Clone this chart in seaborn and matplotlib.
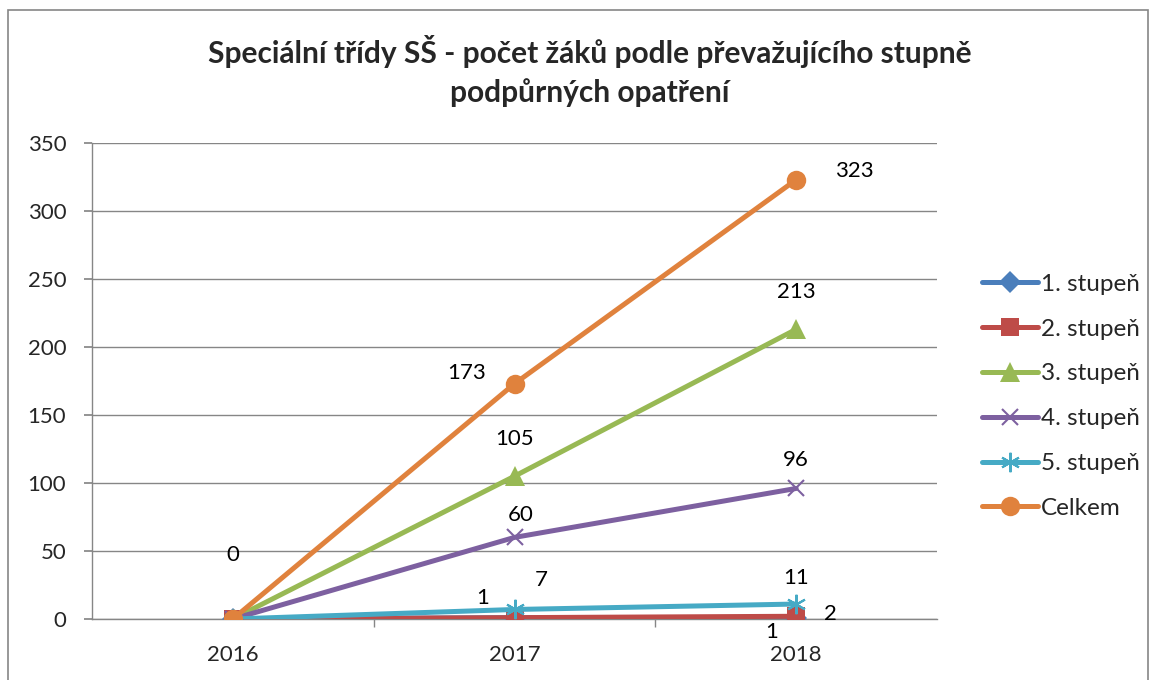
import matplotlib
matplotlib.use("Agg")
import matplotlib.pyplot as plt
import numpy as np
import pandas as pd
import seaborn as sns
from matplotlib.patches import Rectangle

# --- Data ---
years = ["2016", "2017", "2018"]
series_names = ["1. stupeň", "2. stupeň", "3. stupeň", "4. stupeň", "5. stupeň", "Celkem"]
stupen_1 = [0, 1, 1]
stupen_2 = [0, 1, 2]
stupen_3 = [0, 105, 213]
stupen_4 = [0, 60, 96]
stupen_5 = [0, 7, 11]
celkem = [0, 173, 323]
title = "Speciální třídy SŠ - počet žáků podle převažujícího stupně\npodpůrných opatření"

# --- Style ---
_COLORS = ["#4A7EBB", "#BE4B48", "#98B954", "#7D60A0", "#46AAC5", "#E0823D"]
_MARKERS = ["D", "s", "^", "x", (6, 2, 0), "o"]
_MSIZE = [11, 13, 14, 12, 14, 14]
_GRID = "#868686"
_FONT = ["Lato", "DejaVu Sans"]

# data label placement (series index, point index, dx px, dy px)
_LABELS = [
    (5, 0, 0, 64),
    (5, 1, -48, 11),
    (5, 2, 58, 9),
    (2, 1, 0, 37),
    (2, 2, 0, 37),
    (3, 1, 6, 22),
    (3, 2, 0, 28),
    (4, 1, 27, 29),
    (4, 2, 0, 26),
    (1, 1, -32, 20),
    (1, 2, 34, 2),
    (0, 2, -25, -14),
]

sns.set_theme(style="white")
plt.rcParams["font.family"] = _FONT

df = pd.DataFrame(
    {
        "x": np.tile(np.arange(len(years)), len(series_names)),
        "value": np.concatenate([stupen_1, stupen_2, stupen_3, stupen_4, stupen_5, celkem]),
        "series": np.repeat(series_names, len(years)),
    }
)

fig = plt.figure(figsize=(11.53, 6.80), dpi=100)
ax = fig.add_axes([92 / 1153, 61 / 680, 845 / 1153, 476 / 680])

for i, name in enumerate(series_names):
    sub = df[df["series"] == name]
    mk = _MARKERS[i]
    line_art = mk in ("x",) or isinstance(mk, tuple)
    sns.lineplot(
        data=sub,
        x="x",
        y="value",
        ax=ax,
        color=_COLORS[i],
        linewidth=3.6,
        marker=mk,
        markersize=_MSIZE[i],
        markeredgewidth=1.5 if line_art else 0,
        markeredgecolor=_COLORS[i],
        label=name,
        zorder=3 + i,
    )

for si, pi, dx, dy in _LABELS:
    sub = df[df["series"] == series_names[si]]
    v = sub["value"].iloc[pi]
    ax.annotate(
        f"{v:g}",
        (sub["x"].iloc[pi], v),
        xytext=(dx, dy),
        textcoords="offset pixels",
        ha="center",
        va="center",
        fontsize=16,
        color="black",
        zorder=20,
    )

ax.set_xlim(-0.5, 2.5)
ax.set_ylim(0, 350)
ax.set_yticks(range(0, 351, 50))
ax.set_xticks(range(len(years)))
ax.set_xticklabels(years)
ax.set_xticks([0.5, 1.5], minor=True)
ax.set_xlabel("")
ax.set_ylabel("")
ax.grid(axis="y", color=_GRID, linewidth=1)
ax.set_axisbelow(True)
for side in ("top", "right"):
    ax.spines[side].set_visible(False)
for side in ("left", "bottom"):
    ax.spines[side].set_color(_GRID)
    ax.spines[side].set_linewidth(1)
ax.tick_params(axis="y", which="major", left=True, length=6, color=_GRID, labelsize=16, pad=12.5)
ax.tick_params(axis="x", which="major", bottom=False, labelsize=16, pad=13)
ax.tick_params(axis="x", which="minor", bottom=True, length=6, color=_GRID)

fig.text(590 / 1153, 1 - 71 / 680, title, ha="center", va="center",
         fontsize=21.5, fontweight="bold", linespacing=1.42)

handles, labels = ax.get_legend_handles_labels()
ax.legend(
    handles,
    labels,
    loc="upper left",
    bbox_to_anchor=(972 / 1153, 1 - 264 / 680),
    bbox_transform=fig.transFigure,
    frameon=False,
    fontsize=17.5,
    handlelength=2.3,
    handletextpad=0.15,
    labelspacing=0.98,
    borderaxespad=0,
)

fig.patches.append(
    Rectangle((8 / 1153, -0.05), 1140 / 1153, 1.05 - 10 / 680, transform=fig.transFigure,
              fill=False, edgecolor=_GRID, linewidth=1.2)
)

fig.savefig("out.png", dpi=100)
